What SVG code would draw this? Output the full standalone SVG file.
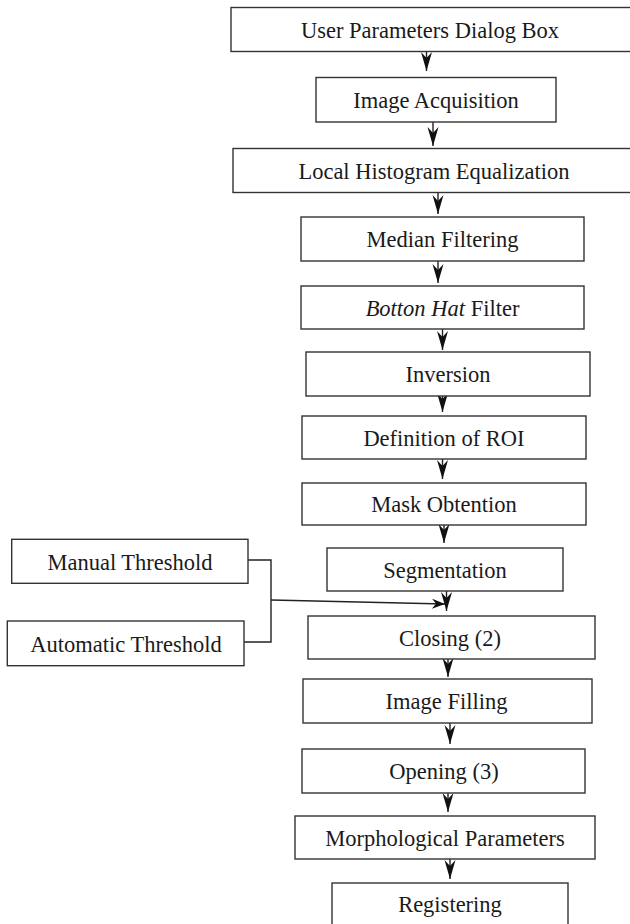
<svg xmlns="http://www.w3.org/2000/svg" width="630" height="924" viewBox="0 0 630 924">
<defs>
<style>
.box{fill:#fff;stroke:#333;stroke-width:1.4}
.t{font-family:"Liberation Serif","Times New Roman",serif;font-size:22.5px;fill:#1a1a1a;text-anchor:middle}
.c{fill:none;stroke:#222;stroke-width:1.4}
</style>
<marker id="ah" markerUnits="userSpaceOnUse" viewBox="-20 -7 21 14" markerWidth="21" markerHeight="14" refX="0" refY="0" orient="auto">
<path d="M0,0 L-19,-5.5 L-13,0 L-19,5.5 Z" fill="#111"/>
</marker>
<marker id="ahs" markerUnits="userSpaceOnUse" viewBox="-15 -6 16 12" markerWidth="16" markerHeight="12" refX="0" refY="0" orient="auto">
<path d="M0,0 L-13,-5 L-9,0 L-13,5 Z" fill="#111"/>
</marker>
</defs>
<rect width="630" height="924" fill="#fff"/>
<g id="connectors">
<line class="c" x1="426.5" y1="52" x2="426.5" y2="71" marker-end="url(#ah)"/>
<line class="c" x1="433" y1="122" x2="433" y2="146" marker-end="url(#ah)"/>
<line class="c" x1="438" y1="193" x2="438" y2="214" marker-end="url(#ah)"/>
<line class="c" x1="438" y1="261" x2="438" y2="283" marker-end="url(#ah)"/>
<line class="c" x1="442.5" y1="329" x2="442.5" y2="350" marker-end="url(#ah)"/>
<line class="c" x1="442.5" y1="396" x2="442.5" y2="412" marker-end="url(#ah)"/>
<line class="c" x1="442.5" y1="459" x2="442.5" y2="479" marker-end="url(#ah)"/>
<line class="c" x1="444" y1="525" x2="444" y2="543" marker-end="url(#ah)"/>
<line class="c" x1="446.5" y1="591" x2="446.5" y2="611" marker-end="url(#ah)"/>
<line class="c" x1="448" y1="659" x2="448" y2="677" marker-end="url(#ah)"/>
<line class="c" x1="450" y1="723" x2="450" y2="744" marker-end="url(#ah)"/>
<line class="c" x1="448" y1="793" x2="448" y2="812" marker-end="url(#ah)"/>
<line class="c" x1="450" y1="859" x2="450" y2="879" marker-end="url(#ah)"/>
<polyline class="c" points="248,560 271,560 271,642 244,642"/>
<line class="c" x1="271" y1="600" x2="445" y2="604" marker-end="url(#ahs)"/>
</g>
<g id="n1"><rect class="box" x="231" y="7.5" width="402" height="44"/><text class="t" x="430" y="37.5">User Parameters Dialog Box</text></g>
<g id="n2"><rect class="box" x="316" y="77.5" width="240" height="44.5"/><text class="t" x="436" y="108">Image Acquisition</text></g>
<g id="n3"><rect class="box" x="233" y="148.5" width="402" height="44"/><text class="t" x="434" y="178.5">Local Histogram Equalization</text></g>
<g id="n4"><rect class="box" x="301" y="217" width="283" height="44"/><text class="t" x="442.5" y="247">Median Filtering</text></g>
<g id="n5"><rect class="box" x="301" y="286" width="283" height="43"/><text class="t" x="442.5" y="315.5"><tspan font-style="italic">Botton Hat</tspan> Filter</text></g>
<g id="n6"><rect class="box" x="306" y="352" width="284" height="44"/><text class="t" x="448" y="382">Inversion</text></g>
<g id="n7"><rect class="box" x="302" y="416" width="284" height="43"/><text class="t" x="444" y="445.5">Definition of ROI</text></g>
<g id="n8"><rect class="box" x="302" y="483" width="284" height="42"/><text class="t" x="444" y="512">Mask Obtention</text></g>
<g id="n9"><rect class="box" x="327" y="548" width="236" height="43"/><text class="t" x="445" y="577.5">Segmentation</text></g>
<g id="n10"><rect class="box" x="308" y="616" width="287" height="43"/><text class="t" x="450" y="645.5">Closing (2)</text></g>
<g id="n11"><rect class="box" x="303" y="679" width="289" height="44"/><text class="t" x="446.5" y="709">Image Filling</text></g>
<g id="n12"><rect class="box" x="302" y="749" width="283" height="44"/><text class="t" x="444" y="779">Opening (3)</text></g>
<g id="n13"><rect class="box" x="295" y="816" width="300" height="43"/><text class="t" x="445" y="845.5">Morphological Parameters</text></g>
<g id="n14"><rect class="box" x="332" y="883" width="236" height="50"/><text class="t" x="450" y="912">Registering</text></g>
<g id="n15"><rect class="box" x="11.7" y="539.3" width="236.3" height="44"/><text class="t" x="130" y="569.5">Manual Threshold</text></g>
<g id="n16"><rect class="box" x="7.3" y="621" width="236.7" height="44.7"/><text class="t" x="126" y="651.5">Automatic Threshold</text></g>
</svg>
